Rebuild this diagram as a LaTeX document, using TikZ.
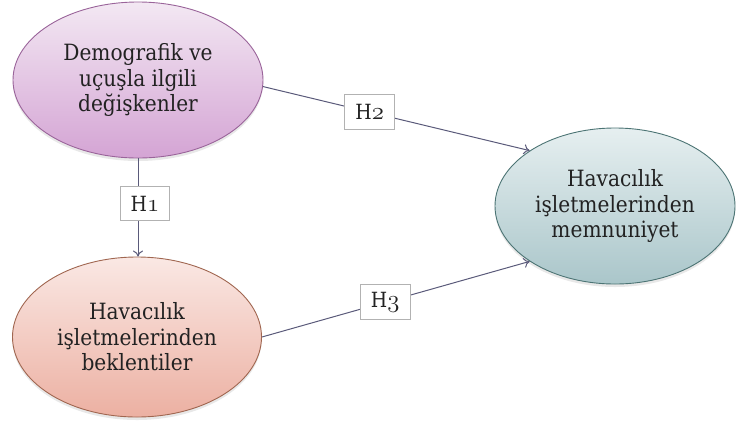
\documentclass[tikz,border=0pt]{standalone}
\usepackage{fontspec}
\setmainfont{DejaVu Serif Condensed}
\usetikzlibrary{shapes.geometric,arrows.meta,shadows}
\definecolor{purpTop}{HTML}{F3E8F3}
\definecolor{purpBot}{HTML}{D4A4D4}
\definecolor{purpLine}{HTML}{9A649A}
\definecolor{pinkTop}{HTML}{FAE8E4}
\definecolor{pinkBot}{HTML}{ECB0A2}
\definecolor{pinkLine}{HTML}{A06650}
\definecolor{blueTop}{HTML}{E6EFF0}
\definecolor{blueBot}{HTML}{AAC6CA}
\definecolor{blueLine}{HTML}{4C7474}
\definecolor{arrowCol}{HTML}{5A5A7A}
\definecolor{txtCol}{HTML}{222222}
\newcommand{\osn}[1]{{\fontencoding{OML}\fontfamily{cmm}\fontseries{m}\fontshape{it}\fontsize{27}{27}\selectfont #1}}
\tikzset{
  ellbox/.style={ellipse, inner sep=0pt, align=center, text=txtCol,
    font=\fontsize{22.5}{25.5}\selectfont, line width=0.9bp,
    drop shadow={opacity=0.18, shadow xshift=0bp, shadow yshift=-3bp}},
  hbox/.style={draw=black!30, fill=white, minimum width=49bp, minimum height=34bp,
    inner sep=0pt, text=txtCol, font=\fontsize{21}{24}\selectfont, line width=0.7bp},
  conn/.style={draw=arrowCol, line width=1bp, -{To[length=6bp,width=10bp]}}
}
\begin{document}
\begin{tikzpicture}[x=1bp,y=-1bp]
\useasboundingbox (0,0) rectangle (736,423);
\node[ellbox, draw=purpLine, top color=purpTop, bottom color=purpBot,
  minimum width=250bp, minimum height=156bp] (demo) at (138,80)
  {Demografik ve\\uçuşla ilgili\\değişkenler};
\node[ellbox, draw=pinkLine, top color=pinkTop, bottom color=pinkBot,
  minimum width=249bp, minimum height=160bp] (bek) at (137,337)
  {Havacılık\\işletmelerinden\\beklentiler};
\node[ellbox, draw=blueLine, top color=blueTop, bottom color=blueBot,
  minimum width=240bp, minimum height=156bp] (mem) at (615,206)
  {Havacılık\\işletmelerinden\\memnuniyet};
\draw[conn] (demo.south) -- (demo.south |- bek.north)
  node[hbox, pos=0.46, xshift=7bp] (h1) {H\osn{1}};
\draw[conn] (demo.-3) -- (mem.147)
  node[hbox, pos=0.4, minimum width=50bp, minimum height=35bp] (h2) {H\osn{2}};
\draw[conn] (bek.east) -- (mem.213)
  node[hbox, pos=0.46, minimum width=50bp, minimum height=35bp] (h3) {H\osn{3}};
\end{tikzpicture}
\end{document}
